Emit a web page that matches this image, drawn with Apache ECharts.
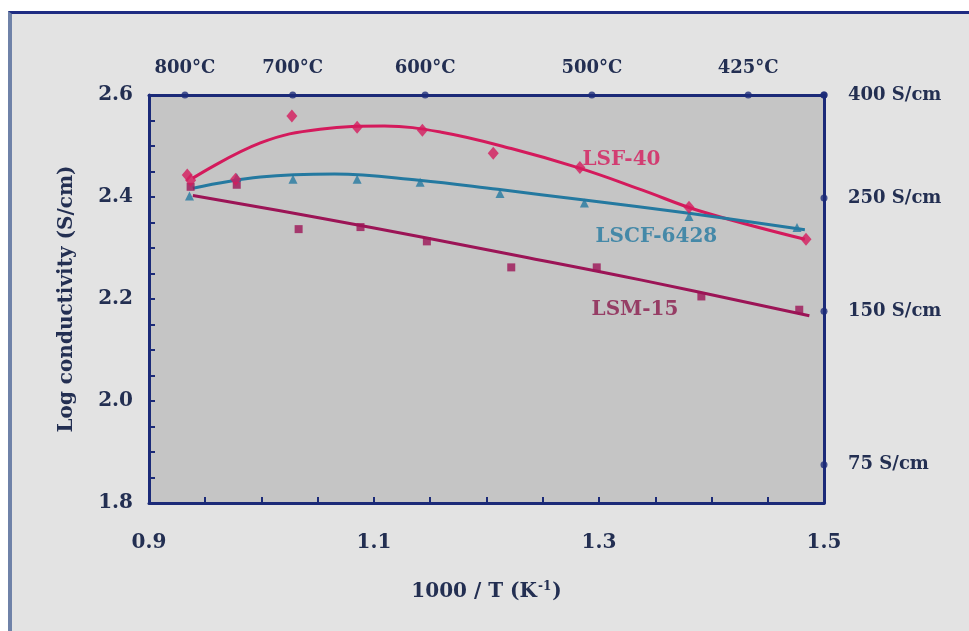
<!DOCTYPE html>
<html lang="en">
<head>
    <meta charset="UTF-8">
    <title>Log conductivity</title>
    <script src="https://cdn.jsdelivr.net/npm/echarts@6/dist/echarts.min.js"></script>
    <style>
        body { margin: 0; background: #fff; }
        #frame {
            position: absolute; left: 8px; top: 11px; width: 961px; height: 620px;
            background: #e3e3e3; border-top: 3px solid #1e2c82; border-left: 4px solid #6f82a8;
            box-sizing: border-box;
        }
        #main { position: absolute; left: 0; top: 0; width: 969px; height: 631px; }
    </style>
</head>
<body>
    <div id="frame"></div>
    <div id="main"></div>
    <script type="text/javascript">
        // measured points [1000/T, log sigma]
        var lsfPts = [[0.934, 2.443], [0.937, 2.433], [0.977, 2.435], [1.027, 2.559], [1.085, 2.537],
            [1.143, 2.531], [1.206, 2.486], [1.283, 2.458], [1.380, 2.380], [1.484, 2.317]];
        var lscfPts = [[0.936, 2.402], [0.978, 2.438], [1.028, 2.435], [1.085, 2.435], [1.141, 2.429],
            [1.212, 2.407], [1.287, 2.388], [1.380, 2.362], [1.476, 2.340]];
        var lsmPts = [[0.937, 2.420], [0.978, 2.424], [1.033, 2.337], [1.088, 2.341], [1.147, 2.313],
            [1.222, 2.262], [1.298, 2.262], [1.391, 2.205], [1.478, 2.179]];

        // fitted curves
        var lsfFit = [[0.939, 2.437], [0.999, 2.506], [1.052, 2.533], [1.109, 2.539], [1.160, 2.527],
            [1.222, 2.495], [1.282, 2.457], [1.338, 2.414], [1.389, 2.373], [1.483, 2.317]];
        var lscfFit = [[0.939, 2.417], [0.999, 2.439], [1.065, 2.445], [1.140, 2.433],
            [1.210, 2.415], [1.287, 2.394], [1.380, 2.368], [1.483, 2.336]];
        var lsmFit = [[0.939, 2.403], [1.052, 2.359], [1.148, 2.319], [1.237, 2.281],
            [1.338, 2.237], [1.487, 2.167]];

        var tempC = [800, 700, 600, 500, 425];       // top axis
        var sCm = [400, 250, 150, 75];               // right axis
        var curveNames = ['LSF-40', 'LSCF-6428', 'LSM-15'];
        var namePos = [[1.320, 2.472], [1.351, 2.321], [1.332, 2.179]];

        var cLsf = '#d41a5c', cLscf = '#2479a0', cLsm = '#9c1456';
        var navy = '#1b2a78', txt = '#232f52';
        var font = 'DejaVu Serif';

        var topVals = tempC.map(function (c) { return 1000 / (c + 273); });
        var rightVals = sCm.map(function (s) { return Math.min(2.6, Math.log10(s)); });

        function onStep(v, start, step) {
            var k = (v - start) / step;
            return Math.abs(k - Math.round(k)) < 1e-6;
        }

        function fit(name, data, color) {
            return { name: name, type: 'line', smooth: 0.4, showSymbol: false,
                data: data, lineStyle: { color: color, width: 3 }, z: 3 };
        }

        var myChart = echarts.init(document.getElementById('main'));
        myChart.setOption({
            backgroundColor: 'transparent',
            animation: false,
            grid: {
                left: 149, right: 145, top: 95, bottom: 128,
                show: true, backgroundColor: '#c5c5c5', borderWidth: 0
            },
            xAxis: [{
                type: 'value', min: 0.9, max: 1.5, interval: 0.05,
                name: '{n|1000 / T (K}{s|-1}{n|)}', nameLocation: 'middle', nameGap: 78,
                nameTextStyle: {
                    rich: {
                        n: { fontFamily: font, fontWeight: 'bold', fontSize: 20, color: txt },
                        s: { fontFamily: font, fontWeight: 'bold', fontSize: 12, color: txt, verticalAlign: 'top', padding: [0, 1, 10, 1] }
                    }
                },
                axisLine: { onZero: false, lineStyle: { color: navy, width: 3 } },
                axisTick: { inside: true, length: 6, lineStyle: { color: navy, width: 2 } },
                axisLabel: {
                    margin: 30, fontFamily: font, fontWeight: 'bold', fontSize: 20, color: txt,
                    formatter: function (v) { return onStep(v, 0.9, 0.2) ? v.toFixed(1) : ''; }
                },
                splitLine: { show: false }
            }, {
                type: 'value', min: 0.9, max: 1.5, position: 'top',
                axisLine: { lineStyle: { color: navy, width: 3 } },
                axisTick: { show: false },
                axisLabel: {
                    customValues: topVals, margin: 18,
                    fontFamily: font, fontWeight: 'bold', fontSize: 18, color: txt,
                    formatter: function (v) { return Math.round(1000 / v - 273) + '°C'; }
                },
                splitLine: { show: false }
            }],
            yAxis: [{
                type: 'value', min: 1.8, max: 2.6, interval: 0.05,
                name: 'Log conductivity (S/cm)', nameLocation: 'middle', nameGap: 72,
                nameTextStyle: { fontFamily: font, fontWeight: 'bold', fontSize: 20, color: txt },
                axisLine: { onZero: false, lineStyle: { color: navy, width: 3 } },
                axisTick: { inside: true, length: 6, lineStyle: { color: navy, width: 2 } },
                axisLabel: {
                    margin: 16, fontFamily: font, fontWeight: 'bold', fontSize: 20, color: txt,
                    formatter: function (v) { return onStep(v, 1.8, 0.2) ? v.toFixed(1) : ''; }
                },
                splitLine: { show: false }
            }, {
                type: 'value', min: 1.8, max: 2.6, position: 'right',
                axisLine: { show: true, lineStyle: { color: navy, width: 3 } },
                axisTick: { show: false },
                axisLabel: {
                    customValues: rightVals, margin: 24,
                    fontFamily: font, fontWeight: 'bold', fontSize: 18, color: txt,
                    formatter: function (v) { return Math.round(Math.pow(10, v) / 5) * 5 + ' S/cm'; }
                },
                splitLine: { show: false }
            }],
            series: [
                fit('LSF-40 fit', lsfFit, cLsf),
                fit('LSCF-6428 fit', lscfFit, cLscf),
                fit('LSM-15 fit', lsmFit, cLsm),
                { name: 'LSM-15', type: 'scatter', symbol: 'rect', symbolSize: 8, data: lsmPts,
                  itemStyle: { color: cLsm }, z: 4 },
                { name: 'LSCF-6428', type: 'scatter', symbol: 'triangle', symbolSize: 9, data: lscfPts,
                  itemStyle: { color: cLscf }, z: 4 },
                { name: 'LSF-40', type: 'scatter', symbol: 'diamond', symbolSize: [11, 13], data: lsfPts,
                  itemStyle: { color: cLsf }, z: 5 },
                { name: 'labels', type: 'scatter', symbolSize: 0, silent: true,
                  data: namePos.map(function (p, i) {
                      return { value: p, name: curveNames[i],
                          label: { color: [cLsf, cLscf, '#8a1a4c'][i] } };
                  }),
                  label: { show: true, position: 'inside', formatter: '{b}',
                      fontFamily: font, fontWeight: 'bold', fontSize: 20 }, z: 6 },
                { name: 'top ticks', type: 'scatter', symbol: 'circle', symbolSize: 7, silent: true, clip: false,
                  data: topVals.map(function (v) { return [v, 2.6]; }).concat([[1.5, 2.6]]),
                  itemStyle: { color: navy }, z: 7 },
                { name: 'right ticks', type: 'scatter', symbol: 'circle', symbolSize: 7, silent: true, clip: false,
                  data: rightVals.map(function (v) { return [1.5, v]; }),
                  itemStyle: { color: navy }, z: 7 }
            ]
        });
    </script>
</body>
</html>
